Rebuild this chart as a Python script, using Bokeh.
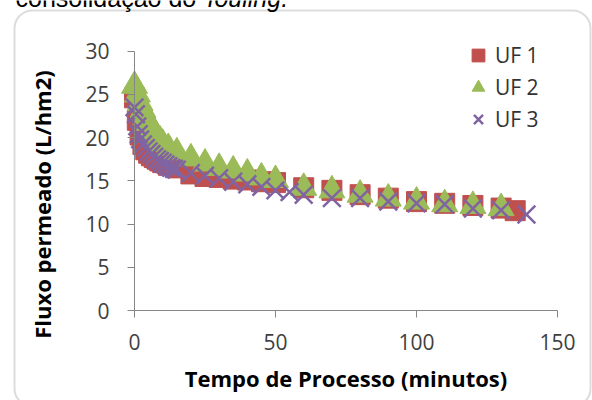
from bokeh.plotting import figure
from bokeh.models import (Range1d, FixedTicker, Legend, LegendItem, BoxAnnotation,
                          LinearAxis, Label)
from bokeh.embed import file_html
from bokeh.resources import INLINE

# ---- data ----
t_uf1 = [0, 1, 2, 3, 4, 5, 6, 7, 8, 9, 10, 12, 15, 20, 25, 30, 35, 40, 45, 50,
         60, 70, 80, 90, 100, 110, 120, 130, 135]
uf1 = [24.6, 22.0, 20.3, 19.2, 18.6, 18.2, 17.9, 17.7, 17.5, 17.3, 17.1, 16.8, 16.5,
       15.8, 15.5, 15.4, 15.2, 15.1, 14.9, 14.8, 14.2, 13.9, 13.4, 13.0, 12.6, 12.4,
       12.15, 11.85, 11.55]

t_uf2 = [0, 1, 2, 3, 4, 5, 6, 7, 8, 9, 10, 12, 15, 20, 25, 30, 35, 40, 45, 50,
         60, 70, 80, 90, 100, 110, 120, 130]
uf2 = [26.0, 25.0, 24.0, 23.2, 22.4, 21.7, 21.1, 20.6, 20.1, 19.7, 19.3, 18.8, 18.3,
       17.6, 17.0, 16.5, 16.2, 15.85, 15.4, 15.1, 14.2, 13.9, 13.4, 12.95, 12.6, 12.3,
       12.1, 11.85]

t_uf3 = [0, 0.5, 1, 1.5, 2, 3, 4, 5, 6, 7, 8, 9, 10, 11, 12, 13, 14, 15, 20, 25, 30,
         35, 40, 45, 50, 55, 60, 70, 80, 90, 100, 110, 120, 130, 139]
uf3 = [23.5, 22.7, 21.3, 20.4, 19.8, 19.2, 18.8, 18.4, 18.1, 17.8, 17.5, 17.3, 17.1,
       16.9, 16.7, 16.5, 16.4, 16.3, 15.9, 15.6, 15.3, 14.9, 14.6, 14.3, 13.9, 13.7,
       13.4, 13.0, 13.0, 12.6, 12.4, 12.3, 11.8, 11.6, 11.1]

series_labels = ["UF 1", "UF 2", "UF 3"]
x_ticks = [0, 50, 100, 150]
y_ticks = [0, 5, 10, 15, 20, 25, 30]
x_title = "Tempo de Processo (minutos)"
y_title = "Fluxo permeado (L/hm2)"
caption_plain = "consolidação do "
caption_italic = "fouling."

# ---- layout constants (pixels) ----
W, H = 592, 400
X0_PX, X150_PX = 134.0, 557.0     # where t=0 and t=150 sit
Y0_PX, Y30_PX = 310.0, 50.7       # where v=0 and v=30 sit
xpu = (X150_PX - X0_PX) / 150.0
ypu = (Y0_PX - Y30_PX) / 30.0

C1, C2, C3 = "#C0504D", "#9BBB59", "#8064A2"
AXIS_GREY = "#868686"
FONT = "Open Sans"

p = figure(width=W, height=H, output_backend="svg", toolbar_location=None,
           x_range=Range1d(-X0_PX / xpu, (W - X0_PX) / xpu),
           y_range=Range1d(-(H - Y0_PX) / ypu, Y0_PX / ypu),
           min_border=0, min_border_left=0, min_border_right=0,
           min_border_top=0, min_border_bottom=0)
p.outline_line_color = None
p.grid.visible = False
p.background_fill_color = "white"
p.border_fill_color = "white"

r1 = p.scatter(t_uf1, uf1, marker="square", size=20, fill_color=C1, line_color=C1)
r2 = p.scatter(t_uf2, uf2, marker="triangle", size=26, fill_color=C2, line_color=C2)
r3 = p.scatter(t_uf3, uf3, marker="x", size=25, line_color=C3, line_width=2.5)

xa = p.xaxis[0]
ya = p.yaxis[0]
for ax in (xa, ya):
    ax.axis_line_color = AXIS_GREY
    ax.major_tick_line_color = AXIS_GREY
    ax.major_tick_in = 0
    ax.major_tick_out = 7
    ax.minor_tick_line_color = None
    ax.major_label_text_font = FONT
    ax.major_label_text_font_size = "21px"
    ax.major_label_text_color = "#404040"
    ax.axis_label_text_font = FONT
    ax.axis_label_text_font_size = "22px"
    ax.axis_label_text_font_style = "bold"
    ax.axis_label_text_color = "#000000"

xa.ticker = FixedTicker(ticks=x_ticks)
ya.ticker = FixedTicker(ticks=y_ticks)
xa.bounds = (0, 150)
ya.bounds = (0, 30)
xa.fixed_location = 0
ya.fixed_location = 0
xa.axis_label = x_title
xa.major_label_standoff = 16
xa.axis_label_standoff = 10
ya.major_label_standoff = 18

# label-only axis for the vertical title (centred a bit lower, as in the reference)
ya2 = LinearAxis(ticker=FixedTicker(ticks=[]), fixed_location=0, bounds=(-5.4, 30),
                 axis_line_color=None, major_tick_line_color=None,
                 minor_tick_line_color=None, major_tick_out=0, major_tick_in=0,
                 major_label_text_font_size="0px", axis_label=y_title,
                 axis_label_text_font=FONT, axis_label_text_font_size="22px",
                 axis_label_text_font_style="bold", axis_label_text_color="#000000",
                 axis_label_standoff=78)
p.add_layout(ya2, "left")

legend = Legend(items=[LegendItem(label=series_labels[0], renderers=[r1]),
                       LegendItem(label=series_labels[1], renderers=[r2]),
                       LegendItem(label=series_labels[2], renderers=[r3])],
                location=(462, 265), glyph_width=32, glyph_height=32, spacing=0,
                padding=0, margin=0, label_standoff=1, border_line_color=None,
                background_fill_alpha=0, label_text_font=FONT,
                label_text_font_size="21px", label_text_color="#333333")
p.add_layout(legend)

box = BoxAnnotation(left=14, right=590, top=390, bottom=-6,
                    left_units="screen", right_units="screen",
                    top_units="screen", bottom_units="screen",
                    fill_alpha=0, line_color="#8c8c8c", line_width=2,
                    border_radius=18)
p.add_layout(box)

p.add_layout(Label(x=15, y=403, x_units="screen", y_units="screen",
                   text=caption_plain, text_font="Liberation Sans",
                   text_font_size="25px", text_baseline="alphabetic",
                   text_color="#000000"))
p.add_layout(Label(x=207, y=403, x_units="screen", y_units="screen",
                   text=caption_italic, text_font="Liberation Sans",
                   text_font_size="25px", text_font_style="italic",
                   text_baseline="alphabetic", text_color="#000000"))

open("out.html", "w").write(file_html(p, INLINE))
